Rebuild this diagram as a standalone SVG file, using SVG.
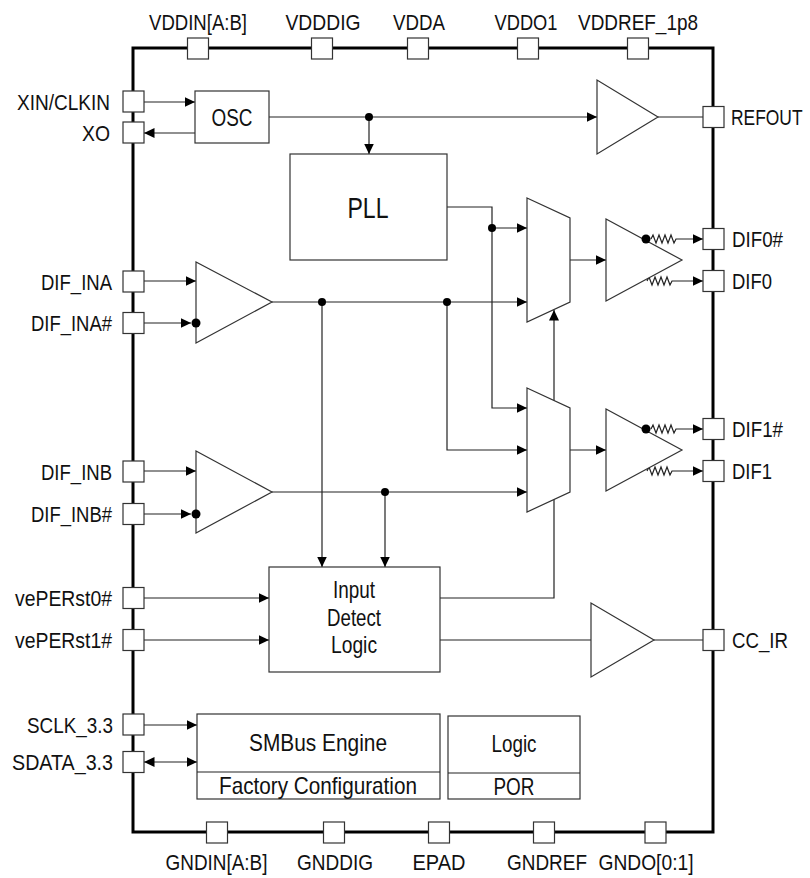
<svg xmlns="http://www.w3.org/2000/svg" width="810" height="878" viewBox="0 0 810 878">
<style>
.pin{fill:#fff;stroke:#333;stroke-width:1.2}
.blk{fill:#fff;stroke:#333;stroke-width:1.2}
.w{stroke:#222;stroke-width:1.2;fill:none}
.a{marker-end:url(#ah)}
.d{marker-start:url(#ah)}
.dot{fill:#000}
.t{font-family:"Liberation Sans",Arial,sans-serif;font-size:21.5px;fill:#111}
.l{text-anchor:end}
.m{text-anchor:middle}
.b{font-size:24px}
</style>
<defs>
<marker id="ah" markerUnits="userSpaceOnUse" markerWidth="11" markerHeight="10" refX="10.5" refY="5" orient="auto-start-reverse">
<path d="M0,0 L10.5,5 L0,10 z" fill="#000"/>
</marker>
</defs>
<rect width="810" height="878" fill="#fff"/>
<g id="frame"><rect x="133" y="48" width="580" height="784" fill="none" stroke="#000" stroke-width="3"/></g>
<g id="connectors">
<path class="w a" d="M144,102 H195"/>
<path class="w a" d="M195,133 H144"/>
<path class="w a" d="M269,117 H597"/>
<path class="w a" d="M369,117 V154"/>
<path class="w a" d="M447,207 H492 V408 H527"/>
<path class="w a" d="M492,228 H527"/>
<path class="w a" d="M144,281 H196"/>
<path class="w a" d="M144,323 H191"/>
<path class="w a" d="M144,471 H196"/>
<path class="w a" d="M144,514 H191"/>
<path class="w a" d="M272,302 H527"/>
<path class="w a" d="M322,302 V567"/>
<path class="w a" d="M447,302 V450 H527"/>
<path class="w a" d="M272,492 H527"/>
<path class="w a" d="M385,492 V567"/>
<path class="w a" d="M440,598 H554 V310"/>
<path class="w a" d="M570,260 H606"/>
<path class="w a" d="M570,450 H606"/>
<path class="w a" d="M651,239 l2,-4 l3,8 l3,-8 l3,8 l3,-8 l3,8 l3,-8 l3,8 l2,-4 H703"/>
<path class="w a" d="M647,281 l2,-4 l3,8 l3,-8 l3,8 l3,-8 l3,8 l3,-8 l3,8 l2,-4 H703"/>
<path class="w a" d="M651,429 l2,-4 l3,8 l3,-8 l3,8 l3,-8 l3,8 l3,-8 l3,8 l2,-4 H703"/>
<path class="w a" d="M647,471 l2,-4 l3,8 l3,-8 l3,8 l3,-8 l3,8 l3,-8 l3,8 l2,-4 H703"/>
<path class="w" d="M658,117 H703"/>
<path class="w a" d="M144,598 H269"/>
<path class="w a" d="M144,640 H269"/>
<path class="w" d="M440,640 H591"/>
<path class="w" d="M654,640 H703"/>
<path class="w a" d="M144,725 H197"/>
<path class="w a d" d="M144,762 H197"/>
<circle class="dot" cx="369" cy="117" r="4"/>
<circle class="dot" cx="492" cy="228" r="4"/>
<circle class="dot" cx="322" cy="302" r="4"/>
<circle class="dot" cx="447" cy="302" r="4"/>
<circle class="dot" cx="385" cy="492" r="4"/>
</g>
<g id="osc"><rect class="blk" x="195" y="91" width="74" height="52"/><text class="t m b" x="232" y="125.5" textLength="41" lengthAdjust="spacingAndGlyphs">OSC</text></g>
<g id="pll"><rect class="blk" x="290" y="154" width="157" height="106"/><text class="t m" style="font-size:29px" x="368" y="217.5" textLength="41" lengthAdjust="spacingAndGlyphs">PLL</text></g>
<g id="refout-buf"><path class="blk" d="M597,80 V154 L658,117 z"/></g>
<g id="buf-ina"><path class="blk" d="M196,262 V343 L272,302 z"/><circle class="dot" cx="196" cy="323" r="4.5"/></g>
<g id="buf-inb"><path class="blk" d="M196,451 V533 L272,492 z"/><circle class="dot" cx="196" cy="514" r="4.5"/></g>
<g id="mux0"><path class="blk" d="M527,198 L570,218 V302 L527,322 z"/></g>
<g id="mux1"><path class="blk" d="M527,388 L570,408 V492 L527,512 z"/></g>
<g id="buf-dif0"><path class="blk" d="M606,219 V301 L682,260 z"/><circle class="dot" cx="646" cy="239" r="4.5"/></g>
<g id="buf-dif1"><path class="blk" d="M606,409 V491 L682,450 z"/><circle class="dot" cx="646" cy="429" r="4.5"/></g>
<g id="input-detect"><rect class="blk" x="269" y="567" width="171" height="105"/><text class="t m b" x="354" y="598" textLength="42" lengthAdjust="spacingAndGlyphs">Input</text><text class="t m b" x="354" y="626" textLength="54" lengthAdjust="spacingAndGlyphs">Detect</text><text class="t m b" x="354" y="653" textLength="46" lengthAdjust="spacingAndGlyphs">Logic</text></g>
<g id="ccir-buf"><path class="blk" d="M591,603 V677 L654,640 z"/></g>
<g id="smbus"><rect class="blk" x="197" y="714" width="243" height="85"/><path class="w" d="M197,772 H440"/><text class="t m b" x="318" y="751" textLength="138" lengthAdjust="spacingAndGlyphs">SMBus Engine</text><text class="t m b" x="318" y="794" textLength="198" lengthAdjust="spacingAndGlyphs">Factory Configuration</text></g>
<g id="por"><rect class="blk" x="448" y="716" width="132" height="83"/><path class="w" d="M448,773 H580"/><text class="t m b" x="514" y="752" textLength="45" lengthAdjust="spacingAndGlyphs">Logic</text><text class="t m b" x="514" y="795" textLength="41" lengthAdjust="spacingAndGlyphs">POR</text></g>
<g id="pins-top">
<rect class="pin" x="187.5" y="38" width="21" height="21"/><text class="t m" x="198" y="30" textLength="98" lengthAdjust="spacingAndGlyphs">VDDIN[A:B]</text>
<rect class="pin" x="311.5" y="38" width="21" height="21"/><text class="t m" x="323" y="30" textLength="75" lengthAdjust="spacingAndGlyphs">VDDDIG</text>
<rect class="pin" x="407.5" y="38" width="21" height="21"/><text class="t m" x="419" y="30" textLength="52" lengthAdjust="spacingAndGlyphs">VDDA</text>
<rect class="pin" x="517.5" y="38" width="21" height="21"/><text class="t m" x="526" y="30" textLength="63" lengthAdjust="spacingAndGlyphs">VDDO1</text>
<rect class="pin" x="627.5" y="38" width="21" height="21"/><text class="t m" x="638" y="30" textLength="120" lengthAdjust="spacingAndGlyphs">VDDREF_1p8</text>
</g>
<g id="pins-bottom">
<rect class="pin" x="206.5" y="822" width="21" height="21"/><text class="t m" x="216.5" y="870" textLength="102" lengthAdjust="spacingAndGlyphs">GNDIN[A:B]</text>
<rect class="pin" x="323.5" y="822" width="21" height="21"/><text class="t m" x="335" y="870" textLength="76" lengthAdjust="spacingAndGlyphs">GNDDIG</text>
<rect class="pin" x="428.5" y="822" width="21" height="21"/><text class="t m" x="439" y="870" textLength="53" lengthAdjust="spacingAndGlyphs">EPAD</text>
<rect class="pin" x="533.5" y="822" width="21" height="21"/><text class="t m" x="547" y="870" textLength="80" lengthAdjust="spacingAndGlyphs">GNDREF</text>
<rect class="pin" x="645" y="822" width="21" height="21"/><text class="t m" x="646" y="870" textLength="95" lengthAdjust="spacingAndGlyphs">GNDO[0:1]</text>
</g>
<g id="pins-left">
<rect class="pin" x="123" y="91" width="21" height="21"/><text class="t l" x="110" y="110" textLength="93" lengthAdjust="spacingAndGlyphs">XIN/CLKIN</text>
<rect class="pin" x="123" y="122" width="21" height="21"/><text class="t l" x="110" y="140.5" textLength="28" lengthAdjust="spacingAndGlyphs">XO</text>
<rect class="pin" x="123" y="271" width="21" height="21"/><text class="t l" x="112" y="289.5" textLength="71" lengthAdjust="spacingAndGlyphs">DIF_INA</text>
<rect class="pin" x="123" y="312.5" width="21" height="21"/><text class="t l" x="112" y="331" textLength="81" lengthAdjust="spacingAndGlyphs">DIF_INA#</text>
<rect class="pin" x="123" y="461" width="21" height="21"/><text class="t l" x="112" y="479.5" textLength="71" lengthAdjust="spacingAndGlyphs">DIF_INB</text>
<rect class="pin" x="123" y="503.5" width="21" height="21"/><text class="t l" x="112" y="522" textLength="81" lengthAdjust="spacingAndGlyphs">DIF_INB#</text>
<rect class="pin" x="123" y="587.5" width="21" height="21"/><text class="t l" x="112" y="606" textLength="97" lengthAdjust="spacingAndGlyphs">vePERst0#</text>
<rect class="pin" x="123" y="629.5" width="21" height="21"/><text class="t l" x="112" y="648" textLength="97" lengthAdjust="spacingAndGlyphs">vePERst1#</text>
<rect class="pin" x="123" y="714" width="21" height="21"/><text class="t l" x="113" y="732.5" textLength="86" lengthAdjust="spacingAndGlyphs">SCLK_3.3</text>
<rect class="pin" x="123" y="751.5" width="21" height="21"/><text class="t l" x="113" y="770" textLength="101" lengthAdjust="spacingAndGlyphs">SDATA_3.3</text>
</g>
<g id="pins-right">
<rect class="pin" x="703" y="106.5" width="21" height="21"/><text class="t" transform="translate(731,125) scale(0.81,1)">REFOUT</text>
<rect class="pin" x="703" y="228.5" width="21" height="21"/><text class="t" x="732" y="247" textLength="51" lengthAdjust="spacingAndGlyphs">DIF0#</text>
<rect class="pin" x="703" y="270.5" width="21" height="21"/><text class="t" x="732" y="289" textLength="40" lengthAdjust="spacingAndGlyphs">DIF0</text>
<rect class="pin" x="703" y="418.5" width="21" height="21"/><text class="t" x="732" y="437" textLength="51" lengthAdjust="spacingAndGlyphs">DIF1#</text>
<rect class="pin" x="703" y="460.5" width="21" height="21"/><text class="t" x="732" y="479" textLength="40" lengthAdjust="spacingAndGlyphs">DIF1</text>
<rect class="pin" x="703" y="629.5" width="21" height="21"/><text class="t" x="732" y="648" textLength="56" lengthAdjust="spacingAndGlyphs">CC_IR</text>
</g>
</svg>
